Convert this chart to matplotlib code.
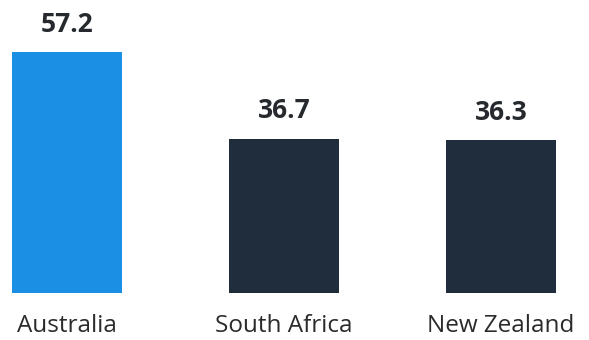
import matplotlib.pyplot as plt

countries = ["Australia", "South Africa", "New Zealand"]
values = [57.2, 36.7, 36.3]
colors = ["#1a8fe3", "#1f2d3c"]

W, H = 589, 340
fig = plt.figure(figsize=(W / 100, H / 100), dpi=100)
ax = fig.add_axes([0, 47 / H, 1, 293 / H])

bar_colors = [colors[0]] + [colors[1]] * (len(countries) - 1)
x = list(range(len(countries)))
ax.bar(x, values, width=0.507, color=bar_colors)

for xi, v in zip(x, values):
    ax.text(xi, v + 3.4, f"{v:.1f}", ha="center", va="bottom",
            fontsize=19, fontweight="bold", color="#262a2e", family="Open Sans")

ax.set_xlim(-0.309, 2.405)
ax.set_ylim(0, 69.6)
ax.set_xticks(x)
ax.set_xticklabels(countries, fontsize=17.5, color="#2b2b2b", family="Open Sans")
ax.tick_params(axis="x", length=0, pad=15)
ax.set_yticks([])
for s in ax.spines.values():
    s.set_visible(False)

fig.savefig("out.png", dpi=100)
